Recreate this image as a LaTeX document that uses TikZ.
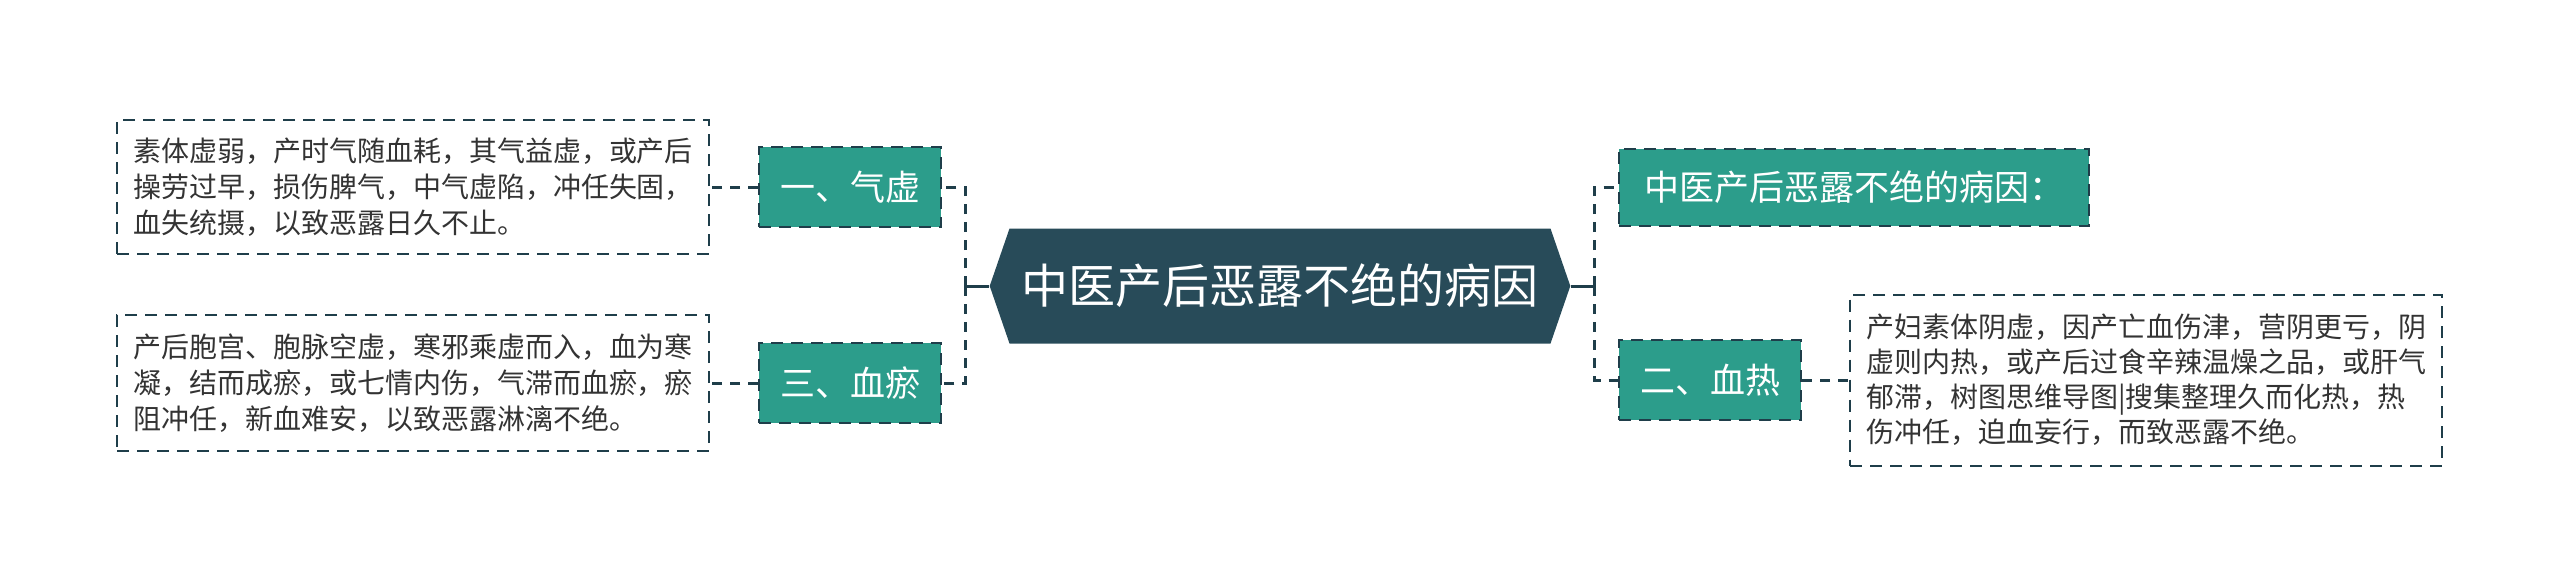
\documentclass[tikz,border=0pt]{standalone}
\usepackage{fontspec}
\setmainfont{Noto Sans CJK SC}
\usepackage{tikz}
\usetikzlibrary{shapes.symbols}

\definecolor{hubslate}{HTML}{284B59}
\definecolor{leafteal}{HTML}{2C9D8B}
\definecolor{linkslate}{HTML}{1F3E4A}
\definecolor{notegray}{HTML}{333333}

\begin{document}
\begin{tikzpicture}[
    hub/.style={signal, signal to=west and east, signal pointer angle=142, fill=hubslate, text=white, font=\fontsize{23.5pt}{28pt}\selectfont, minimum height=57.5pt, inner xsep=6pt},
    leaf/.style={rectangle, draw=linkslate, line width=1pt, dash pattern=on 6pt off 4pt, fill=leafteal, text=white, font=\fontsize{17.5pt}{21pt}\selectfont, minimum width=91pt, minimum height=40pt, inner xsep=10pt},
    note/.style={rectangle, draw=linkslate, line width=1pt, dash pattern=on 6pt off 4pt, text=notegray, font=\fontsize{14pt}{18pt}\selectfont, align=left, minimum width=294pt, inner xsep=8pt},
    link/.style={line width=1.5pt, draw=linkslate},
    linkdash/.style={link, dash pattern=on 5pt off 4pt}
]
    \useasboundingbox (0,0) rectangle (1280pt,-293pt);

    \node[hub] (hub) at (640pt,-143pt) {中医产后恶露不绝的病因};

    % left branch
    \node[leaf, node distance=215pt, left of=hub, yshift=49.5pt] (qixu) {一、气虚};
    \node[leaf, node distance=98pt, below of=qixu] (xueyu) {三、血瘀};
    \node[note, node distance=218.5pt, left of=qixu, minimum height=67pt] (qixunote) {素体虚弱，产时气随血耗，其气益虚，或产后\\操劳过早，损伤脾气，中气虚陷，冲任失固，\\血失统摄，以致恶露日久不止。};
    \node[note, node distance=218.5pt, left of=xueyu, minimum height=68pt] (xueyunote) {产后胞宫、胞脉空虚，寒邪乘虚而入，血为寒\\凝，结而成瘀，或七情内伤，气滞而血瘀，瘀\\阻冲任，新血难安，以致恶露淋漓不绝。};

    % right branch
    \node[leaf, node distance=287pt, right of=hub, yshift=49.5pt, minimum width=235pt, minimum height=38.5pt] (cause) {中医产后恶露不绝的病因：};
    \node[leaf, node distance=215pt, right of=hub, yshift=-47pt] (xuere) {二、血热};
    \node[note, node distance=218pt, right of=xuere, minimum height=85.5pt, font=\fontsize{14pt}{17.5pt}\selectfont] (xuerenote) {产妇素体阴虚，因产亡血伤津，营阴更亏，阴\\虚则内热，或产后过食辛辣温燥之品，或肝气\\郁滞，树图思维导图|搜集整理久而化热，热\\伤冲任，迫血妄行，而致恶露不绝。};

    \draw[link] (hub.west) -- ++(-12pt,0) coordinate (lfork);
    \draw[linkdash] (lfork) |- (qixu.east);
    \draw[linkdash] (lfork) |- (xueyu.east);
    \draw[linkdash] (qixu.west) -- (qixunote.east);
    \draw[linkdash] (xueyu.west) -- (xueyunote.east);

    \draw[link] (hub.east) -- ++(12pt,0) coordinate (rfork);
    \draw[linkdash] (rfork) |- (cause.west);
    \draw[linkdash] (rfork) |- (xuere.west);
    \draw[linkdash] (xuere.east) -- (xuerenote.west);
\end{tikzpicture}
\end{document}
